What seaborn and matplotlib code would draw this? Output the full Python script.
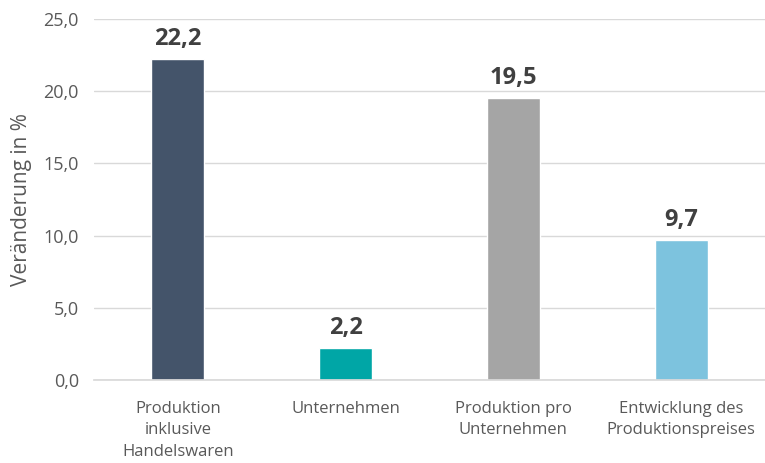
import matplotlib
matplotlib.use("Agg")
import matplotlib.pyplot as plt
import seaborn as sns
import pandas as pd

categories = ["Produktion\ninklusive\nHandelswaren", "Unternehmen",
              "Produktion pro\nUnternehmen", "Entwicklung des\nProduktionspreises"]
values = [22.2, 2.2, 19.5, 9.7]
colors = ["#44546A", "#00A6A6", "#A5A5A5", "#7DC3DE"]
yticks = [0, 5, 10, 15, 20, 25]
ylabel = "Veränderung in %"

sns.set_theme(style="white")
plt.rcParams['font.family'] = ['Open Sans', 'DejaVu Sans']

df = pd.DataFrame({"cat": categories, "val": values})
fig = plt.figure(figsize=(7.65, 4.63), dpi=100)
ax = fig.add_axes([0.123, 0.179, 0.877, 0.78])
sns.barplot(data=df, x="cat", y="val", hue="cat", palette=colors, width=0.316,
            legend=False, ax=ax, saturation=1)

ax.set_ylim(0, 25)
ax.set_xlim(-0.5, 3.5)
ax.set_yticks(yticks)
ax.set_yticklabels([f"{t:.1f}".replace(".", ",") for t in yticks], color="#595959", fontsize=13)
ax.tick_params(axis="x", colors="#595959", labelsize=12, length=0, pad=15)
ax.tick_params(axis="y", length=0, pad=11)
for lbl in ax.get_xticklabels():
    lbl.set_linespacing(1.45)
ax.set_xlabel("")
ax.set_ylabel(ylabel, color="#595959", fontsize=15, labelpad=8)
ax.yaxis.grid(True, color="#D9D9D9", linewidth=1)
ax.set_axisbelow(True)
for s in ["top", "right", "left"]:
    ax.spines[s].set_visible(False)
ax.spines["bottom"].set_color("#D9D9D9")

for c in ax.containers:
    ax.bar_label(c, labels=[f"{v:.1f}".replace(".", ",") for v in c.datavalues],
                 padding=6, fontsize=17, fontweight="bold", color="#404040")

fig.savefig("out.png", dpi=100)
